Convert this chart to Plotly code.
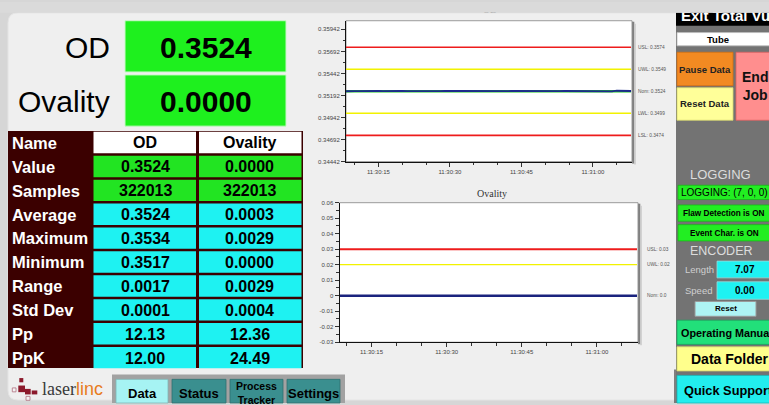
import plotly.graph_objects as go
import pandas as pd

W, H = 769, 405
SANS = "Liberation Sans, Arial, sans-serif"
SERIF = "Liberation Serif, Times New Roman, serif"

# ------------------------------------------------------------------ data
od_values = [0.35240, 0.35245, 0.35242, 0.35241, 0.35243, 0.35241, 0.35242, 0.35244,
             0.35241, 0.35243, 0.35242, 0.35241, 0.35244, 0.35242, 0.35241, 0.35245,
             0.35240, 0.35242, 0.35241, 0.35243, 0.35242, 0.35244, 0.35241, 0.35243,
             0.35244, 0.35243, 0.35242, 0.35243, 0.35240, 0.35239, 0.35242, 0.35241,
             0.35243, 0.35242, 0.35241, 0.35243, 0.35242, 0.35241, 0.35242, 0.35243,
             0.35241, 0.35240, 0.35238, 0.35237, 0.35240, 0.35241, 0.35243, 0.35242,
             0.35244, 0.35243, 0.35244, 0.35243, 0.35242, 0.35242, 0.35241, 0.35239,
             0.35238, 0.35246, 0.35247, 0.35244, 0.35243]
ov_values = [0.0] * 44 + [0.0003] + [0.0] * 16
sample_times = pd.date_range("2024-01-01 11:30:08", periods=len(od_values), freq="1s")

od_limit_names = ["USL", "UWL", "Nom", "LWL", "LSL"]
od_limit_values = [0.3574, 0.3549, 0.3524, 0.3499, 0.3474]
od_limit_labels = ["0.3574", "0.3549", "0.3524", "0.3499", "0.3474"]
ov_limit_names = ["USL", "UWL", "Nom"]
ov_limit_values = [0.03, 0.02, 0.0]
ov_limit_labels = ["0.03", "0.02", "0.0"]

od_ytick_vals = [0.34442, 0.34692, 0.34942, 0.35192, 0.35442, 0.35692, 0.35942]
od_ytick_text = ["0.34442", "0.34692", "0.34942", "0.35192", "0.35442", "0.35692", "0.35942"]
ov_ytick_vals = [-0.03, -0.02, -0.01, 0.0, 0.01, 0.02, 0.03, 0.04, 0.05, 0.06]
ov_ytick_text = ["-0.03", "-0.02", "-0.01", "0", "0.01", "0.02", "0.03", "0.04", "0.05", "0.06"]

top_labels = ["OD", "Ovality"]
top_values = ["0.3524", "0.0000"]

row_names = ["Name", "Value", "Samples", "Average", "Maximum", "Minimum",
             "Range", "Std Dev", "Pp", "PpK"]
od_column = ["OD", "0.3524", "322013", "0.3524", "0.3534", "0.3517",
             "0.0017", "0.0001", "12.13", "12.00"]
ov_column = ["Ovality", "0.0000", "322013", "0.0003", "0.0029", "0.0000",
             "0.0029", "0.0004", "12.36", "24.49"]

tab_labels = ["Data", "Status", "Process<br>Tracker", "Settings"]

encoder_length = "7.07"
encoder_speed = "0.00"
logging_state = "LOGGING: (7, 0, 0)"

# ------------------------------------------------------------------ helpers
def X(px):
    return px / W


def Y(py):
    return 1 - py / H


def box(x0, y0, x1, y1, fill, line="rgba(0,0,0,0)", lw=0, layer="below"):
    return dict(type="rect", xref="paper", yref="paper", x0=X(x0), x1=X(x1),
                y0=Y(y1), y1=Y(y0), fillcolor=fill, line=dict(color=line, width=lw),
                layer=layer)


def seg(x0, y0, x1, y1, color, lw, layer="below"):
    return dict(type="line", xref="paper", yref="paper", x0=X(x0), x1=X(x1),
                y0=Y(y0), y1=Y(y1), line=dict(color=color, width=lw), layer=layer)


def txt(x, y, s, size, color="#000", bold=False, anchor="center", family=SANS):
    return dict(x=X(x), y=Y(y), xref="paper", yref="paper",
                text=f"<b>{s}</b>" if bold else s, showarrow=False,
                xanchor=anchor, yanchor="middle",
                font=dict(family=family, size=size, color=color))


shapes = []
ann = []

# ------------------------------------------------------------------ background panels
rx, ry = 10 / W, 10 / H
x0p, x1p, ytp, ybp = X(8), X(680), Y(10), Y(403)
panel_path = (f"M {x0p + rx},{ytp} L {x1p},{ytp} L {x1p},{ybp} L {x0p + rx},{ybp} "
              f"Q {x0p},{ybp} {x0p},{ybp + ry} L {x0p},{ytp - ry} "
              f"Q {x0p},{ytp} {x0p + rx},{ytp} Z")
shapes.append(dict(type="path", xref="paper", yref="paper", path=panel_path,
                   fillcolor="#efefef", line=dict(color="#e4e4e4", width=1), layer="below"))

# chart plot areas
OD_BOX = (346, 18, 632, 161)
OV_BOX = (339.5, 202.7, 638, 344.3)
for (a, b, c, d) in (OD_BOX, OV_BOX):
    shapes.append(box(a, b, c, d, "#ffffff", "#9a9a9a", 1))
    shapes.append(seg(c + 1.2, b + 1, c + 1.2, d + 2, "#808080", 2.2))
    shapes.append(seg(c + 3, b + 3, c + 3, d + 3, "#c8c8c8", 1.5))

# ------------------------------------------------------------------ top value boxes
GREEN = "#1ef01e"
TGREEN = "#22e422"
CYAN = "#1ef2f2"
for i, (lab, val) in enumerate(zip(top_labels, top_values)):
    y0 = 18 + i * 55
    shapes.append(box(125, y0, 286, y0 + 52, GREEN, "#c9f7c9", 1))
    ann.append(txt(112, y0 + 27, lab, 30, "#000", False, "right"))
    ann.append(txt(205.5, y0 + 27, val, 30, "#000", True))

# ------------------------------------------------------------------ stats table
shapes.append(box(8, 130, 303, 370.5, "#3b0000"))
pitch = 24.26
for r, (nm, a, b) in enumerate(zip(row_names, od_column, ov_column)):
    top = 130 + r * pitch
    fill = "#ffffff" if r == 0 else (TGREEN if r < 3 else CYAN)
    shapes.append(box(93.5, top + 0.8, 196, top + 22.5, fill))
    shapes.append(box(199, top + 0.8, 301.5, top + 22.5, fill))
    ann.append(txt(10, top + 12, nm, 16.5, "#ffffff", True, "left"))
    ann.append(txt(145, top + 12, a, 16, "#000", True))
    ann.append(txt(250, top + 12, b, 16, "#000", True))

# ------------------------------------------------------------------ bottom logo + tabs
logo_sq = [(19.3, 380.7, 23.3, 385, True), (18.3, 388.3, 25, 395, True),
           (25, 391.7, 30.7, 397.3, True), (31.7, 393.3, 37.3, 397.3, True),
           (12.3, 390.7, 16, 394.7, False), (26, 399.3, 30, 403.3, False)]
for (a, b, c, d, filled) in logo_sq:
    if filled:
        shapes.append(box(a, b, c, d, "#8c1a2c"))
    else:
        shapes.append(box(a, b, c, d, "#f4f4f4", "#b07080", 0.8))
ann.append(dict(x=X(40), y=Y(392), xref="paper", yref="paper", showarrow=False,
                xanchor="left", yanchor="middle",
                text="<span style='font-family:Liberation Serif;color:#3a3a3a'>laser</span>"
                     "<span style='color:#e87b1e'>linc</span>",
                font=dict(family=SANS, size=18, color="#3a3a3a")))

shapes.append(box(112, 377, 345, 406, "#a2a2a2"))
tab_x = [(116, 168), (172, 226), (230, 283), (287, 340)]
for i, ((a, c), lab) in enumerate(zip(tab_x, tab_labels)):
    fill = "#a6f3f3" if i == 0 else "#3a8f8f"
    shapes.append(box(a, 382, c, 406, fill, "#7fb5b5" if i == 0 else "#2f7070", 0.8))
    if "<br>" in lab:
        ann.append(txt((a + c) / 2, 396, f"<b>Process</b><br><b>Tracker</b>", 10.5, "#000"))
    else:
        ann.append(txt((a + c) / 2, 396, lab, 13, "#000", True))

# ------------------------------------------------------------------ right control panel
shapes.append(box(676, 10, 770, 406, "#737373"))
shapes.append(seg(675, 372, 675, 406, "#5a5a5a", 1.5))
shapes.append(box(676, 10, 770, 23, "#000000"))
shapes.append(box(677, 30, 770, 43.5, "#ffffff", "#bbbbbb", 0.8))
ann.append(txt(718, 37, "Tube", 9.5, "#000", True))
shapes.append(box(677, 50, 733, 84, "#f28a22", "#d77010", 0.8))
ann.append(txt(705, 67, "Pause Data", 9.5, "#222", True))
shapes.append(box(677, 86, 733, 119, "#ffff99", "#d8d870", 0.8))
ann.append(txt(705, 102.5, "Reset Data", 9.5, "#222", True))
shapes.append(box(736, 50, 770, 119, "#ff8e8e", "#dd6060", 0.8))
ann.append(txt(740, 84.5, "End<br>Job", 14, "#111", True, "left"))
ann.append(txt(720, 174, "LOGGING", 13, "#dcdcdc"))
shapes.append(box(678, 185, 770, 199.5, "#22ee22", "#18b818", 0.8))
ann.append(txt(679, 192.5, logging_state, 10, "#000", False, "left"))
shapes.append(box(678, 205, 770, 221.5, "#22ee22", "#18b818", 0.8))
ann.append(txt(724, 213.5, "Flaw Detection is ON", 8.2, "#000", True))
shapes.append(box(678, 225, 770, 241.5, "#22ee22", "#18b818", 0.8))
ann.append(txt(724, 233.5, "Event Char. is ON", 8.2, "#000", True))
ann.append(txt(721, 252, "ENCODER", 12.5, "#dcdcdc"))
ann.append(txt(683, 271, "Length", 9.5, "#cfcfcf", False, "left"))
shapes.append(box(717, 262, 770, 279, CYAN, "#9adada", 0.8))
ann.append(txt(745, 270.5, encoder_length, 10, "#000", True))
ann.append(txt(683, 292, "Speed", 9.5, "#cfcfcf", False, "left"))
shapes.append(box(717, 283, 770, 300.7, CYAN, "#9adada", 0.8))
ann.append(txt(745, 292, encoder_speed, 10, "#000", True))
shapes.append(box(695, 303, 756, 318, "#aef4f4", "#9a9a9a", 1))
ann.append(txt(725.5, 310.5, "Reset", 8, "#000", True))
shapes.append(box(677, 322, 770, 346.5, "#22e07a", "#18a860", 0.8))
ann.append(txt(679, 334.5, "Operating Manual", 10.8, "#000", True, "left"))
shapes.append(box(677, 349, 770, 373.5, "#ffff8c", "#d4d470", 0.8))
ann.append(txt(689, 361.5, "Data Folder", 14, "#000", True, "left"))
shapes.append(box(677, 378, 770, 406, "#22eeee", "#18b8b8", 0.8))
ann.append(txt(682, 393.5, "Quick Support", 12.8, "#000", True, "left"))

# top strip drawn above everything except annotations (clips partial titles)
shapes.append(box(0, -1, 770, 10, "#dadada", layer="above"))

# ------------------------------------------------------------------ limit labels
for n, v, lab in zip(od_limit_names, od_limit_values, od_limit_labels):
    ypx = 18 + (0.3604 - v) / (0.3604 - 0.34442) * (161 - 18)
    ann.append(txt(636, ypx, f"{n}: {lab}", 4.8, "#555", False, "left"))
for n, v, lab in zip(ov_limit_names, ov_limit_values, ov_limit_labels):
    ypx = 202.7 + (0.06 - v) / 0.09 * (344.3 - 202.7)
    ann.append(txt(645, ypx, f"{n}: {lab}", 4.8, "#555", False, "left"))
ann.append(txt(492.5, 193, "Ovality", 10, "#333", False, "center", SERIF))

# ------------------------------------------------------------------ traces
LCOL = {"USL": "#ee1c1c", "LSL": "#ee1c1c", "UWL": "#f2f200", "LWL": "#f2f200", "Nom": "#22cc22"}
fig = go.Figure()
t_ends = [sample_times[0], sample_times[-1]]
for n, v in zip(od_limit_names, od_limit_values):
    fig.add_trace(go.Scatter(x=t_ends, y=[v, v], mode="lines", xaxis="x", yaxis="y",
                             line=dict(color=LCOL[n], width=1.6 if n != "Nom" else 2.4),
                             showlegend=False, hoverinfo="skip"))
fig.add_trace(go.Scatter(x=sample_times, y=od_values, mode="lines", xaxis="x", yaxis="y",
                         line=dict(color="#1c2a8c", width=1.8), showlegend=False))
for n, v in zip(ov_limit_names, ov_limit_values):
    fig.add_trace(go.Scatter(x=t_ends, y=[v, v], mode="lines", xaxis="x2", yaxis="y2",
                             line=dict(color=LCOL[n], width=2 if n == "USL" else 1.3),
                             showlegend=False, hoverinfo="skip"))
fig.add_trace(go.Scatter(x=sample_times, y=ov_values, mode="lines", xaxis="x2", yaxis="y2",
                         line=dict(color="#1a237e", width=2.6), showlegend=False))

# partially hidden titles on a full-page overlay axis
fig.add_trace(go.Scatter(x=[490, 681], y=[7.5, 14.5], mode="text", xaxis="x3", yaxis="y3",
                         text=["OD", "<b>Exit Total Vu</b>"],
                         textposition=["middle center", "middle right"],
                         textfont=dict(family=[SERIF, SANS], size=[10, 15],
                                       color=["#444444", "#ffffff"]),
                         showlegend=False, hoverinfo="skip", cliponaxis=False))

tickfont = dict(family=SANS, size=6, color="#444")
xcommon = dict(type="date", tickformat="%H:%M:%S", dtick=15000,
               tick0="2024-01-01 11:30:00", ticks="outside", ticklen=4, tickcolor="#333",
               showline=True, linecolor="#111", linewidth=1, showgrid=False, zeroline=False,
               tickfont=tickfont,
               minor=dict(dtick=5000, tick0="2024-01-01 11:30:00", ticks="outside",
                          ticklen=2.5, tickcolor="#333", showgrid=False))
fig.update_layout(
    width=W, height=H, margin=dict(l=0, r=0, t=0, b=0),
    paper_bgcolor="#d6d6d6", plot_bgcolor="rgba(0,0,0,0)",
    xaxis=dict(domain=[X(OD_BOX[0]), X(OD_BOX[2])], anchor="y",
               range=["2024-01-01 11:30:08.2", "2024-01-01 11:31:08.2"], **xcommon),
    yaxis=dict(domain=[Y(OD_BOX[3]), Y(OD_BOX[1])], anchor="x", range=[0.34442, 0.3604],
               tickmode="array", tickvals=od_ytick_vals, ticktext=od_ytick_text,
               ticks="outside", ticklen=4, tickcolor="#333", showline=True,
               linecolor="#111", linewidth=1, showgrid=False, zeroline=False,
               tickfont=tickfont,
               minor=dict(tickmode="linear", tick0=0.34442, dtick=0.00125, ticks="outside",
                          ticklen=2.5, tickcolor="#333", showgrid=False)),
    xaxis2=dict(domain=[X(OV_BOX[0]), X(OV_BOX[2])], anchor="y2",
                range=["2024-01-01 11:30:08.6", "2024-01-01 11:31:08.2"], **xcommon),
    yaxis2=dict(domain=[Y(OV_BOX[3]), Y(OV_BOX[1])], anchor="x2", range=[-0.03, 0.06],
                tickmode="array", tickvals=ov_ytick_vals, ticktext=ov_ytick_text,
                ticks="outside", ticklen=4, tickcolor="#333", showline=True,
                linecolor="#111", linewidth=1, showgrid=False, zeroline=False,
                tickfont=tickfont,
                minor=dict(tickmode="linear", tick0=-0.03, dtick=0.005, ticks="outside",
                           ticklen=2.5, tickcolor="#333", showgrid=False)),
    xaxis3=dict(domain=[0, 1], anchor="y3", range=[0, W], visible=False),
    yaxis3=dict(domain=[0, 1], anchor="x3", range=[H, 0], visible=False),
    shapes=shapes, annotations=ann, showlegend=False,
)
fig.write_html("out.html", config={"displayModeBar": False},
               post_script="document.body.style.margin='0';document.body.style.overflow='hidden';")
